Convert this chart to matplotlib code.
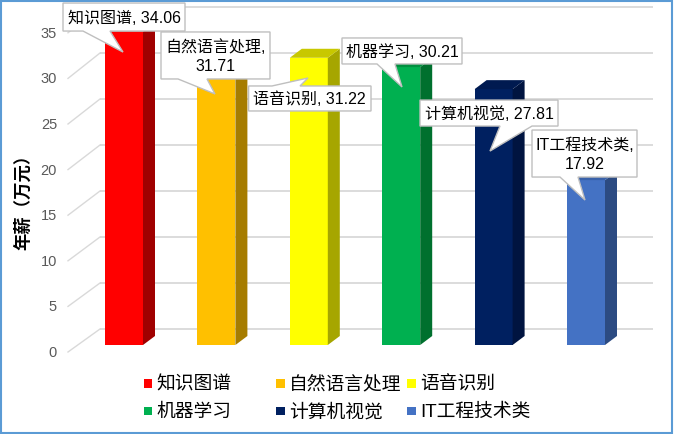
import matplotlib
matplotlib.use("Agg")
import matplotlib.pyplot as plt
from matplotlib.patches import Polygon, Rectangle

plt.rcParams['font.family'] = ['Liberation Sans', 'Noto Sans CJK SC', 'DejaVu Sans']

# ---- data ----
categories = ['知识图谱', '自然语言处理', '语音识别', '机器学习', '计算机视觉', 'IT工程技术类']
salaries = [34.06, 31.71, 31.22, 30.21, 27.81, 17.92]
label_texts = ['知识图谱, 34.06', '自然语言处理,\n31.71', '语音识别, 31.22',
               '机器学习, 30.21', '计算机视觉, 27.81', 'IT工程技术类,\n17.92']
yticks = [0, 5, 10, 15, 20, 25, 30, 35]
ylabel = '年薪（万元）'

# ---- styles ----
front_colors = ['#FF0000', '#FFC000', '#FFFF00', '#00B050', '#002060', '#4472C4']
side_colors = ['#A00000', '#A67C00', '#A6A600', '#00702E', '#001440', '#2C4B82']
top_colors = ['#C80000', '#CC9A00', '#C8C800', '#009040', '#001A50', '#3A62AA']

W, H = 674, 435
fig = plt.figure(figsize=(W / 100, H / 100), dpi=100)
ax = fig.add_axes([0, 0, 1, 1])
ax.axis('off')

# pixel <-> data mapping (x: category index, y: value on front plane)
X0, XS = 124.0, 92.4     # px of category 0 center, px per category
Y0, YS = 346.0, 9.2      # px of value 0 on front plane, px per unit
ax.set_xlim((0 - X0) / XS, (W - X0) / XS)
ax.set_ylim((Y0 - H) / YS, (Y0 - 0) / YS)


def P(px, py):
    return (px - X0) / XS, (Y0 - py) / YS


def D(dxp, dyp):
    return dxp / XS, -dyp / YS


# back wall geometry
wall_dy = 16 / YS
wall_left = P(100, 0)[0]
wall_right = P(653, 0)[0]
side_left = P(68, 0)[0]
label_right = P(57, 0)[0]

for v in yticks:
    yb = v + wall_dy
    yl = -0.761 + 0.9913 * v
    ax.plot([wall_left, wall_right], [yb, yb], color='#D9D9D9', lw=1.3, zorder=1,
            solid_capstyle='butt')
    ax.plot([side_left, wall_left], [yl, yb], color='#D9D9D9', lw=1.0, zorder=1)
    ax.text(label_right, yl, str(v), ha='right', va='center', fontsize=10.5,
            color='#595959')

ax.text(*P(23, 198), ylabel, rotation=90, ha='center', va='center',
        fontsize=12.5, fontweight='bold', color='#000000',
        family=['Noto Sans CJK SC', 'DejaVu Sans'])

# 3D-ish bars
bw = 38 / XS
ddx, ddy = 12 / XS, 9 / YS
xs = list(range(len(categories)))
ax.bar(xs, salaries, width=bw, color=front_colors, zorder=3)
for i, v in enumerate(salaries):
    x1 = i + bw / 2
    x0 = i - bw / 2
    ax.add_patch(Polygon([(x1, 0), (x1 + ddx, ddy), (x1 + ddx, v + ddy), (x1, v)],
                         closed=True, fc=side_colors[i], ec='none', zorder=3))
    ax.add_patch(Polygon([(x0, v), (x1, v), (x1 + ddx, v + ddy), (x0 + ddx, v + ddy)],
                         closed=True, fc=top_colors[i], ec='none', zorder=3))

# callouts: box (L, T, R, B) px offsets from bar top-center, tip offset, base x offsets, edge
callouts = [
    ((-61, -28.6, 61, -0.6), (-1, 20.4), (-41, -14), 'bottom'),
    ((-55.4, -21.3, 53.6, 25.7), (-1.4, 40.7), (-38.4, -9.4), 'bottom'),
    ((-60.2, 28.2, 62.2, 53.2), (-0.8, 20.2), (-36.8, -8.8), 'top'),
    ((-59.2, -29.1, 60.8, -3.1), (0.8, 19.9), (-24.2, -6.2), 'bottom'),
    ((-73.6, 10.9, 64.4, 36.9), (-3.6, 61.9), (6.4, 38.4), 'bottom'),
    ((-54, -50.1, 51, -3.1), (-1, 19.9), (-26, -8), 'bottom'),
]

for i, v in enumerate(salaries):
    (L, T, R, B), (tx, ty), (b1, b2), edge = callouts[i]

    def pt(dx, dy):
        ox, oy = D(dx, dy)
        return (i + ox, v + oy)

    if edge == 'bottom':
        pts = [pt(L, T), pt(R, T), pt(R, B), pt(b2, B), pt(tx, ty), pt(b1, B), pt(L, B)]
    else:
        pts = [pt(L, T), pt(b1, T), pt(tx, ty), pt(b2, T), pt(R, T), pt(R, B), pt(L, B)]
    ax.add_patch(Polygon(pts, closed=True, fc='white', ec='#BFBFBF', lw=1.0, zorder=5))
    cx, cy = pt((L + R) / 2, (T + B) / 2)
    ax.text(cx, cy, label_texts[i], ha='center', va='center', fontsize=11.5,
            color='#000000', zorder=6, linespacing=1.3)

# legend (manual, equal column widths like the source)
leg_cols = [143.5, 276, 407]
leg_rows = [384.5, 412]
msz = 8.5
for k, name in enumerate(categories):
    r, c = divmod(k, 3)
    mx, my = leg_cols[c], leg_rows[r]
    x0, y0 = P(mx, my + msz / 2)
    ax.add_patch(Rectangle((x0, y0), msz / XS, msz / YS, fc=front_colors[k], ec='none'))
    ax.text(*P(mx + 13, my + 0.5), name, ha='left', va='center', fontsize=13.5,
            color='#000000')

# outer border
fig.add_artist(Rectangle((0.5 / W, 1.0 / H), (W - 3) / W, (H - 2.5) / H,
                         transform=fig.transFigure, fill=False, ec='#5B9BD5', lw=1.5))

fig.savefig('out.png', dpi=100, facecolor='white')
